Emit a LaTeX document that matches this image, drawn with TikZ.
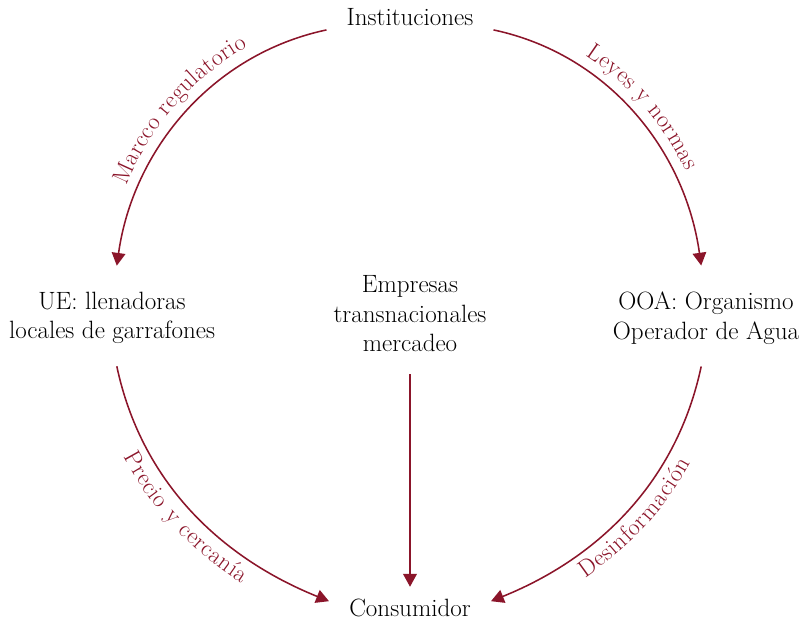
\documentclass[tikz,border=0pt]{standalone}
\usepackage{xcolor}
\usepackage{tikz}
\usetikzlibrary{arrows.meta,positioning,decorations.text}

\definecolor{flowred}{RGB}{139,21,42}
\newcommand{\boxfont}{\fontsize{17.8}{21}\selectfont}
\newcommand{\arcfont}{\fontsize{17}{17}\selectfont}

\tikzset{
  actor/.style={align=center, font=\boxfont, inner sep=0.4cm},
  flow/.style={-{Triangle[length=3.2mm,width=3.4mm]}, line width=1.1pt, flowred},
  lbl/.style={postaction={decorate}, decoration={text along path, text align=center, text color=flowred, text={|\arcfont|#1}}}
}

\begin{document}
\begin{tikzpicture}
\useasboundingbox (0,0) rectangle (20.05,15.55);

% Actors
\node[actor, inner xsep=0.5cm, inner ysep=0.1cm] (inst) at (10.25,15.125) {Instituciones};
\node[actor, inner xsep=0.3cm, inner ysep=0.55cm] (ue) at (2.8,7.6) {UE: llenadoras\\locales de garrafones};
\node[actor] (emp) at (10.25,7.7) {Empresas\\transnacionales\\mercadeo};
\node[actor, inner xsep=0.3cm, inner ysep=0.55cm] (ooa) at (17.65,7.6) {OOA: Organismo\\Operador de Agua};
\node[actor, inner xsep=0.4cm, inner ysep=0.3cm] (cons) at (10.25,0.35) {Consumidor};

% Upper flows
\draw[flow, lbl=Marcco regulatorio, decoration={reverse path, raise=0.3cm}]
  (inst.south west) to[out=192,in=82,looseness=0.95] ([xshift=0.12cm,yshift=0.1cm]ue.north);
\draw[flow, lbl=Leyes y normas, decoration={raise=0.3cm}]
  (inst.south east) to[out=-12,in=98,looseness=0.95] ([xshift=-0.12cm,yshift=0.1cm]ooa.north);

% Lower flows
\draw[flow, lbl=Precio y cercanía, decoration={raise=-0.6cm}]
  ([xshift=0.12cm]ue.south) to[out=282,in=158,looseness=0.95] ([xshift=-0.1cm,yshift=0.17cm]cons.west);
\draw[flow, lbl=Desinformación, decoration={reverse path, raise=-0.6cm}]
  ([xshift=-0.12cm]ooa.south) to[out=258,in=22,looseness=0.95] ([xshift=0.1cm,yshift=0.17cm]cons.east);
\draw[flow, shorten <=0.15cm] (emp) -- (cons);

\end{tikzpicture}
\end{document}
